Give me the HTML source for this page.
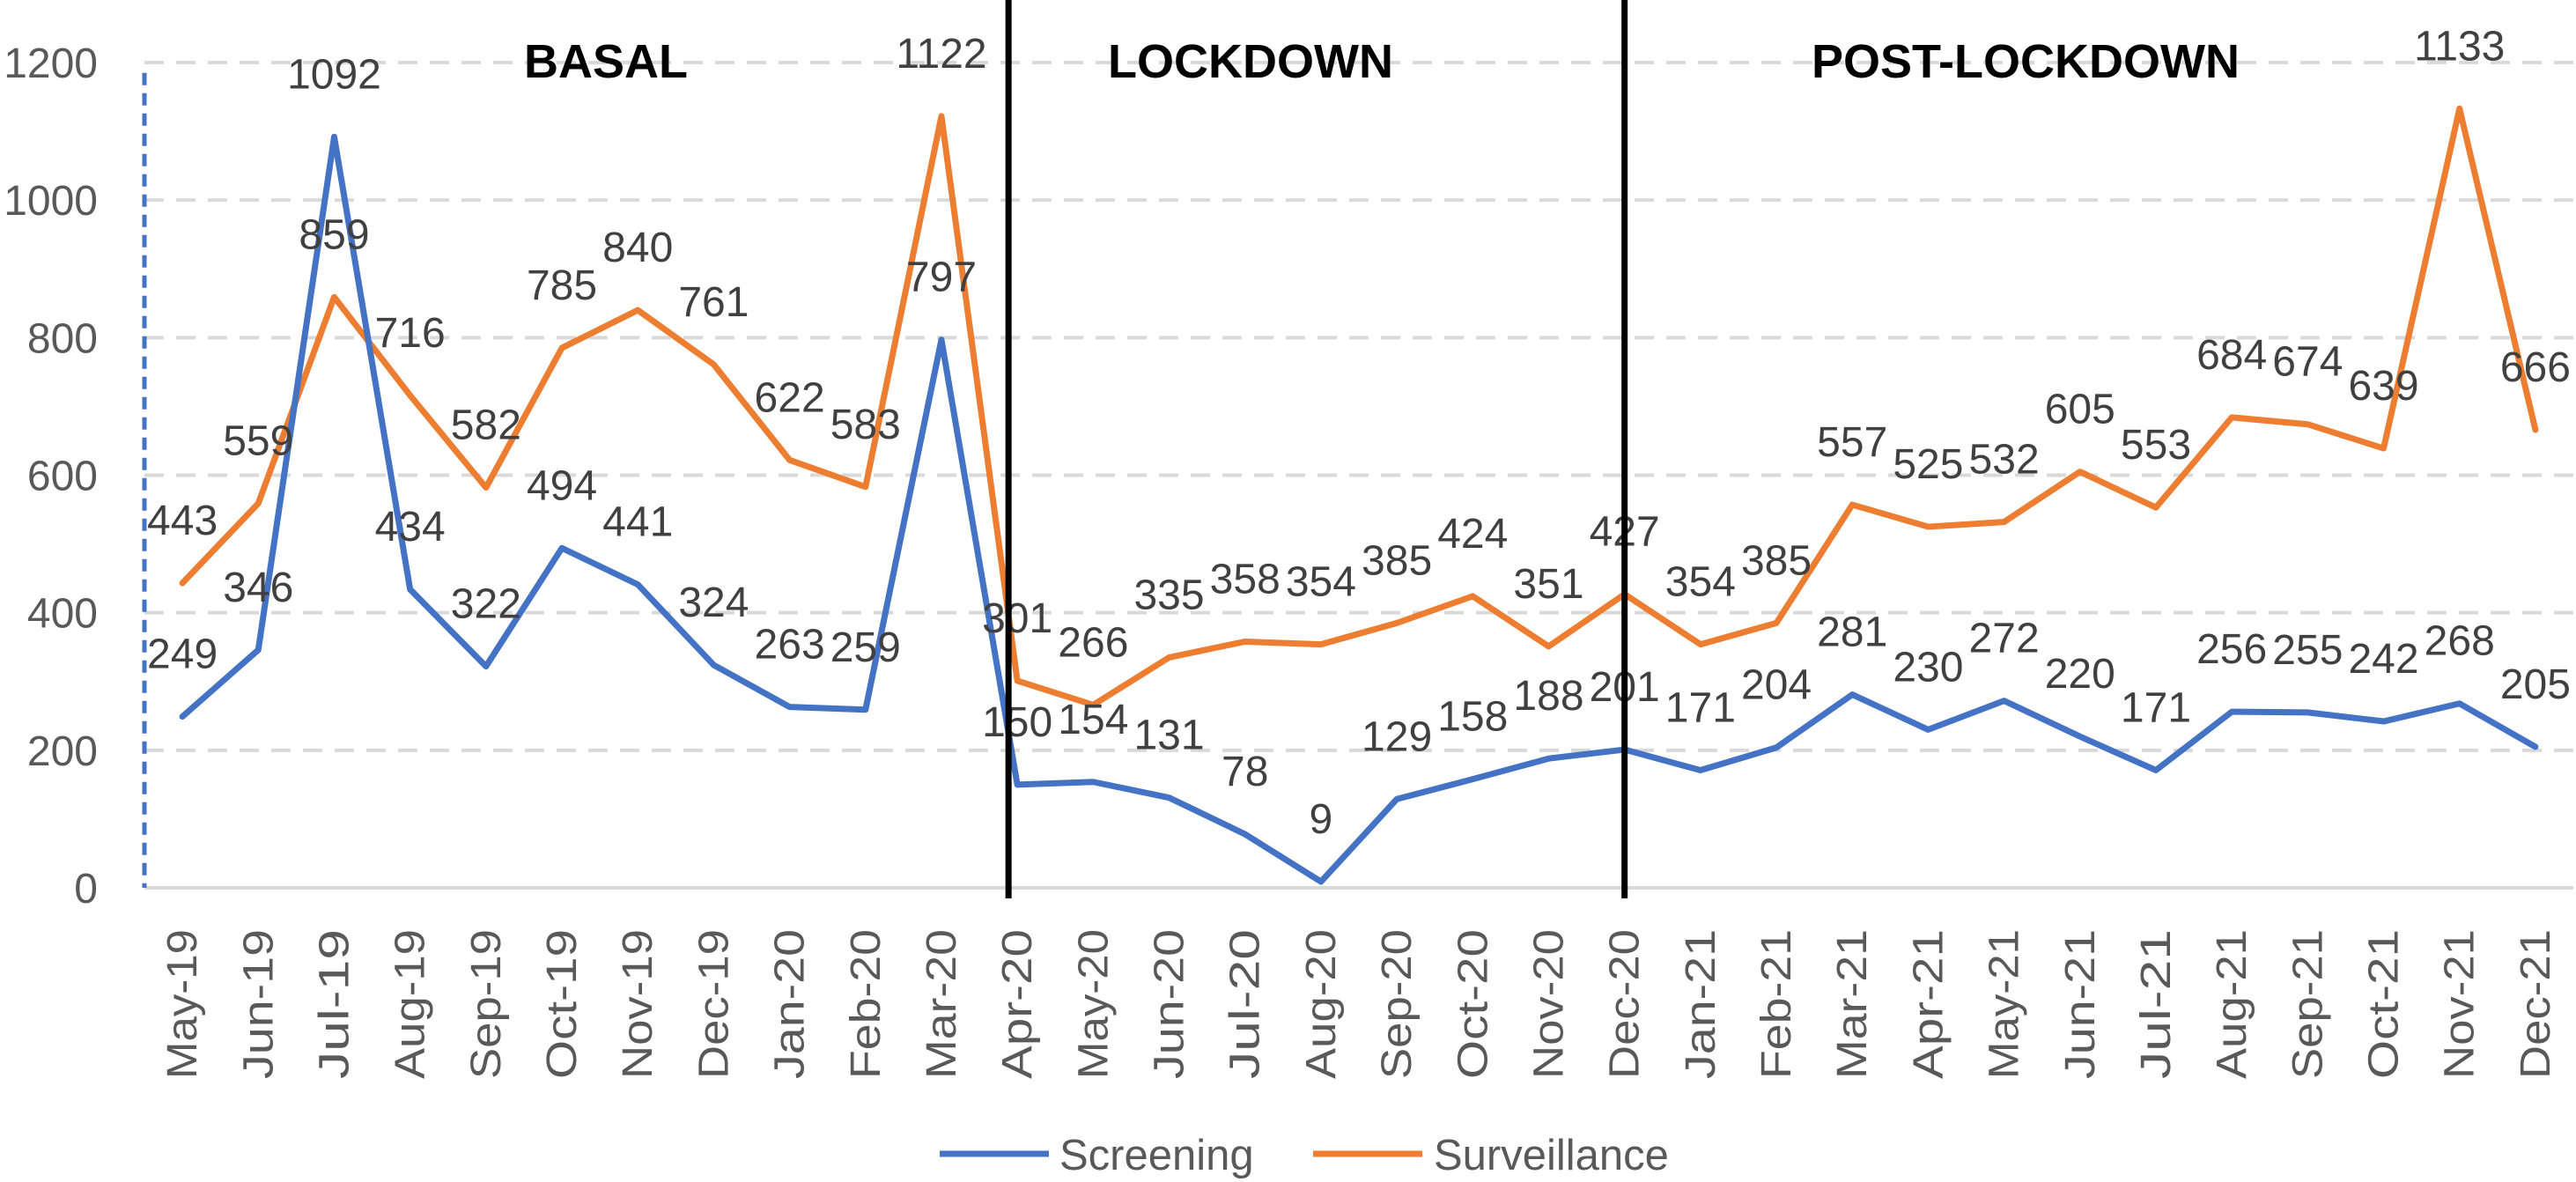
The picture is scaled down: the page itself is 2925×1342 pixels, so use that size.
<!DOCTYPE html>
<html><head><meta charset="utf-8"><style>
html,body{margin:0;padding:0;background:#fff;overflow:hidden;width:2925px;height:1342px;}
svg{display:block;font-family:"Liberation Sans",sans-serif;}
</style></head><body>
<svg id="chart" width="2925" height="1342" viewBox="0 0 2925 1342" xmlns="http://www.w3.org/2000/svg">
<g id="grid"></g>
<g id="yticks"></g>
<g id="xticks"></g>
<g id="series"></g>
<g id="labels"></g>
<g id="periods"></g>
<g id="legend">
  <line x1="1067" y1="1310" x2="1191" y2="1310" stroke="#4472c4" stroke-width="7"/>
  <text x="1203" y="1328" font-size="49" fill="#595959">Screening</text>
  <line x1="1491" y1="1310" x2="1615" y2="1310" stroke="#ed7d31" stroke-width="7"/>
  <text x="1628" y="1328" font-size="49" fill="#595959">Surveillance</text>
</g>
</svg>
<script>
const categories = ["May-19","Jun-19","Jul-19","Aug-19","Sep-19","Oct-19","Nov-19","Dec-19","Jan-20","Feb-20","Mar-20","Apr-20","May-20","Jun-20","Jul-20","Aug-20","Sep-20","Oct-20","Nov-20","Dec-20","Jan-21","Feb-21","Mar-21","Apr-21","May-21","Jun-21","Jul-21","Aug-21","Sep-21","Oct-21","Nov-21","Dec-21"];
const screening = [249,346,1092,434,322,494,441,324,263,259,797,150,154,131,78,9,129,158,188,201,171,204,281,230,272,220,171,256,255,242,268,205];
const surveillance = [443,559,859,716,582,785,840,761,622,583,1122,301,266,335,358,354,385,424,351,427,354,385,557,525,532,605,553,684,674,639,1133,666];
const yTicks = [0,200,400,600,800,1000,1200];
const periodNames = ["BASAL","LOCKDOWN","POST-LOCKDOWN"];
const periodDividers = ["Apr-20","Dec-20"];

const NS="http://www.w3.org/2000/svg";
const X0=164, X1=2922, Y0=1008, Y1=71, YMAX=1200;
const band=(X1-X0)/categories.length;
function xs(i){return X0+band*(i+0.5);}
function ys(v){return Y0-(v/YMAX)*(Y0-Y1);}
function mk(tag,attrs,parent){const e=document.createElementNS(NS,tag);for(const k in attrs)e.setAttribute(k,attrs[k]);parent.appendChild(e);return e;}

const grid=document.getElementById('grid');
const yt=document.getElementById('yticks');
yTicks.forEach(t=>{
  const l=mk('line',{x1:X0,x2:X1,y1:ys(t),y2:ys(t),stroke:'#d9d9d9','stroke-width':4,'stroke-dasharray':t===0?'none':'22 14'},grid);
  
  
  const tx=mk('text',{x:111,y:ys(t)+17,'text-anchor':'end','font-size':48,fill:'#595959'},yt);
  tx.textContent=t;
  
  
});
const ax=mk('line',{x1:X0,x2:X0,y1:ys(1185),y2:Y0,stroke:'#4472c4','stroke-width':5,'stroke-dasharray':'14 9'},grid);



const xt=document.getElementById('xticks');
categories.forEach((c,i)=>{
  const x=xs(i)+16, y=1055;
  const t=mk('text',{x:x,y:y,'text-anchor':'end','font-size':48,fill:'#595959',transform:`rotate(-90 ${x} ${y})`,textLength:170,lengthAdjust:'spacingAndGlyphs'},xt);
  t.textContent=c;
  
  
});

const sg=document.getElementById('series'), lg=document.getElementById('labels');
[[surveillance,'#ed7d31','surveillance'],[screening,'#4472c4','screening']].forEach(([d,col,nm])=>{
  const p=mk('polyline',{points:d.map((v,i)=>xs(i)+','+ys(v)).join(' '),fill:'none',stroke:col,'stroke-width':7,'stroke-linejoin':'round','stroke-linecap':'round'},sg);
  
  
  d.forEach((v,i)=>{
    const t=mk('text',{x:xs(i),y:ys(v)-55,'text-anchor':'middle','font-size':48,fill:'#404040'},lg);
    t.textContent=v;
    
    
  });
});

const pg=document.getElementById('periods');
const d1=xs(categories.indexOf(periodDividers[0]))-10, d2=xs(categories.indexOf(periodDividers[1]));
[d1,d2].forEach((x,k)=>{
  const l=mk('line',{x1:x,x2:x,y1:0,y2:1020,stroke:'#000','stroke-width':7},pg);
  
  
});
const px=[688,1420,2300];
periodNames.forEach((n,k)=>{
  const t=mk('text',{x:px[k],y:88,'text-anchor':'middle','font-size':54,'font-weight':'bold',fill:'#000'},pg);
  t.textContent=n;
  
  
});
</script>
</body></html>
